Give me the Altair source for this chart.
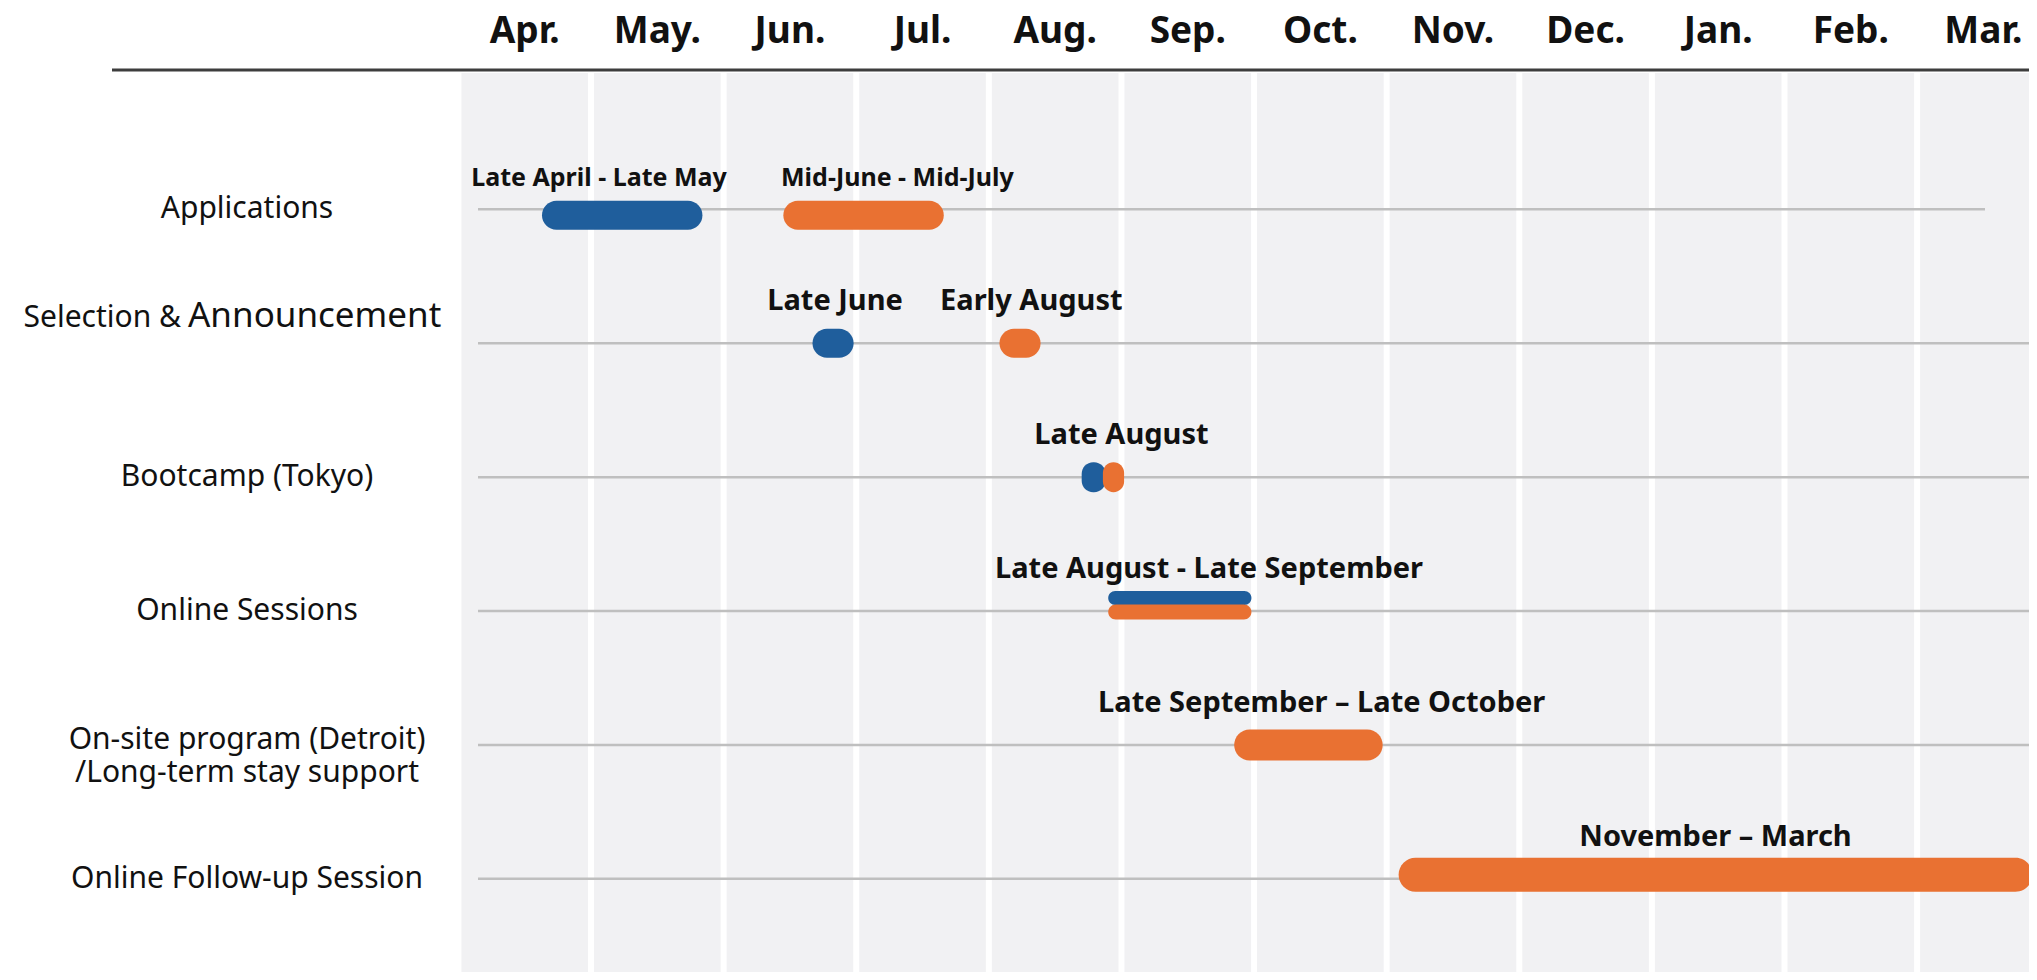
import altair as alt
import pandas as pd

# ---------------- data ----------------
months = ["Apr.", "May.", "Jun.", "Jul.", "Aug.", "Sep.", "Oct.", "Nov.", "Dec.", "Jan.", "Feb.", "Mar."]

rows = [
    "Applications",
    "Selection & Announcement",
    "Bootcamp (Tokyo)",
    "Online Sessions",
    "On-site program (Detroit)\n/Long-term stay support",
    "Online Follow-up Session",
]

# bars: position in months elapsed since 1 April
bar_row = [0, 0, 1, 1, 2, 2, 3, 3, 4, 5]
bar_round = ["first", "second", "first", "second", "first", "second", "first", "second", "second", "second"]
bar_start = [0.63, 2.45, 2.67, 4.08, 4.70, 4.86, 4.90, 4.90, 5.85, 7.09]
bar_end = [1.84, 3.66, 2.98, 4.39, 4.88, 5.02, 5.98, 5.98, 6.97, 11.87]

label_text = [
    "Late April - Late May",
    "Mid-June - Mid-July",
    "Late June",
    "Early August",
    "Late August",
    "Late August - Late September",
    "Late September \u2013 Late October",
    "November \u2013 March",
]
label_row = [0, 0, 1, 1, 2, 3, 4, 5]
label_pos = [1.06, 3.31, 2.84, 4.32, 5.00, 5.66, 6.51, 9.48]

# ---------------- tables ----------------
month_df = pd.DataFrame({"month": months, "start": range(len(months))})
month_df["end"] = month_df["start"] + 1
month_df["mid"] = month_df["start"] + 0.5

row_df = pd.DataFrame({"label": rows, "row": range(len(rows))})
bars_df = pd.DataFrame({"row": bar_row, "round": bar_round, "start": bar_start, "end": bar_end})
labels_df = pd.DataFrame({"text": label_text, "row": label_row, "pos": label_pos})
one = pd.DataFrame({"a": [0]})

W, H = 2021, 964
FONT = "Noto Sans"
BLUE, ORANGE = "#1f5e9c", "#e97132"

X = alt.Scale(domain=[-3.397, 11.844], nice=False, zero=False)
Y = alt.Scale(domain=[-1.4664, 5.6585], nice=False, zero=False, reverse=True)
C = alt.Scale(domain=["first", "second"], range=[BLUE, ORANGE])

PANEL_TOP = 65

# panel background per month
panel = alt.Chart(month_df).mark_rect(color="#f1f1f3").encode(
    x=alt.X("start:Q", scale=X, axis=None),
    x2="end:Q",
    y=alt.value(PANEL_TOP),
    y2=alt.value(H),
)
seps = alt.Chart(month_df).mark_rule(color="white", strokeWidth=6).encode(
    x=alt.X("start:Q", scale=X, axis=None),
    y=alt.value(PANEL_TOP),
    y2=alt.value(H),
)
month_labels = alt.Chart(month_df).mark_text(
    font=FONT, fontWeight="bold", fontSize=37, color="#111111", baseline="alphabetic", align="center"
).encode(
    x=alt.X("mid:Q", scale=X, axis=None),
    y=alt.value(35),
    text="month:N",
)
header_line = alt.Chart(one).mark_rule(color="#3d3d3d", strokeWidth=3).encode(
    x=alt.value(104), x2=alt.value(W), y=alt.value(62)
)

# row guide lines
row_lines = alt.Chart(row_df).transform_filter("datum.row > 0").mark_rule(
    color="#bfbfbf", strokeWidth=2.5
).encode(
    x=alt.value(470), x2=alt.value(W),
    y=alt.Y("row:Q", scale=Y, axis=None),
)
row_line_app = alt.Chart(row_df).transform_filter("datum.row == 0").mark_rule(
    color="#bfbfbf", strokeWidth=2.5
).encode(
    x=alt.value(470), x2=alt.value(1977),
    y=alt.Y("row:Q", scale=Y, axis=None),
)


def bars(expr, **mark):
    return alt.Chart(bars_df).transform_filter(expr).mark_bar(**mark).encode(
        x=alt.X("start:Q", scale=X, axis=None),
        x2="end:Q",
        y=alt.Y("row:Q", scale=Y, axis=None),
        color=alt.Color("round:N", scale=C, legend=None),
    )


bars_app = bars("datum.row == 0", height=29, cornerRadius=14.5, yOffset=6)
bars_sel = bars("datum.row == 1", height=29, cornerRadius=14.5)
bars_boot = bars("datum.row == 2", height=30, cornerRadius=11.5)
bars_online1 = bars("datum.row == 3 && datum.round == 'first'", height=14, cornerRadius=7, yOffset=-13)
bars_online2 = bars("datum.row == 3 && datum.round == 'second'", height=15, cornerRadius=7.5, yOffset=1)
bars_onsite = bars("datum.row == 4", height=31, cornerRadius=15.5)
bars_follow = bars("datum.row == 5", height=34, cornerRadius=17, yOffset=-4)


def bar_labels(expr, size, dy):
    return alt.Chart(labels_df).transform_filter(expr).mark_text(
        font=FONT, fontWeight="bold", fontSize=size, dy=dy, color="#111111",
        baseline="alphabetic", align="center"
    ).encode(
        x=alt.X("pos:Q", scale=X, axis=None),
        y=alt.Y("row:Q", scale=Y, axis=None),
        text="text:N",
    )


labels_app = bar_labels("datum.row == 0", 25, -23)
labels_rest = bar_labels("datum.row > 0", 29, -33)

# row labels
LABEL_X = 239
row_text = alt.Chart(row_df).transform_filter("datum.row == 0 || datum.row == 2 || datum.row == 3 || datum.row == 5").mark_text(
    font=FONT, fontSize=30, color="#111111", baseline="alphabetic", align="center", dy=9
).encode(
    x=alt.value(LABEL_X),
    y=alt.Y("row:Q", scale=Y, axis=None),
    text="label:N",
)
row_text_onsite = alt.Chart(row_df).transform_filter("datum.row == 4").mark_text(
    font=FONT, fontSize=30, color="#111111", baseline="top", align="center", dy=-20,
    lineBreak="\n", lineHeight=33
).encode(
    x=alt.value(LABEL_X),
    y=alt.Y("row:Q", scale=Y, axis=None),
    text="label:N",
)
sel_df = row_df[row_df["row"] == 1].copy()
sel_df["part1"] = sel_df["label"].str.split(" ").str[:2].str.join(" ")
sel_df["part2"] = sel_df["label"].str.split(" ").str[2:].str.join(" ")
sel_a = alt.Chart(sel_df).mark_text(
    font=FONT, fontSize=30, color="#111111", baseline="alphabetic", align="right", dy=-16
).encode(x=alt.value(173), y=alt.Y("row:Q", scale=Y, axis=None), text="part1:N")
sel_b = alt.Chart(sel_df).mark_text(
    font=FONT, fontSize=35, color="#111111", baseline="alphabetic", align="left", dy=-16
).encode(x=alt.value(180), y=alt.Y("row:Q", scale=Y, axis=None), text="part2:N")

chart = alt.layer(
    panel, seps, header_line, month_labels,
    row_lines, row_line_app,
    bars_app, bars_sel, bars_boot, bars_online1, bars_online2, bars_onsite, bars_follow,
    labels_app, labels_rest,
    row_text, row_text_onsite, sel_a, sel_b,
).properties(
    width=W, height=H, padding=0,
    autosize=alt.AutoSizeParams(type="none"),
    background="white",
).configure_view(stroke=None)

chart.save("out.html", embed_options={"renderer": "svg", "actions": False})
